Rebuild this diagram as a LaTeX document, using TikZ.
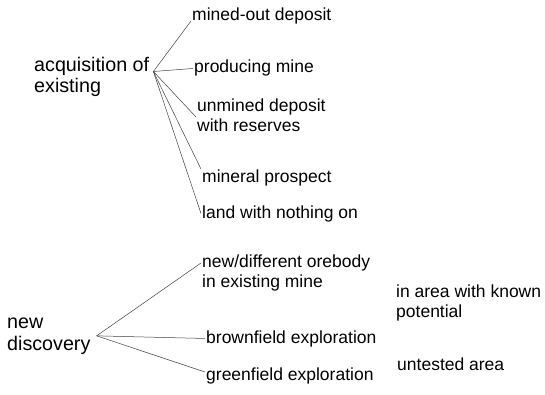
\documentclass[tikz,border=0pt]{standalone}
\usepackage{fontspec}
\setmainfont{Liberation Sans}
\usepackage{tikz}
\usetikzlibrary{positioning}

\begin{document}
\begin{tikzpicture}[
  x=1pt, y=-1pt,
  root/.style = {anchor=base west, align=left, inner sep=1pt,
                 font=\fontsize{19.7}{21.8}\selectfont},
  leaf/.style = {anchor=base west, align=left, inner sep=1pt,
                 font=\fontsize{17.5}{20}\selectfont},
  link/.style = {line width=0.5pt, draw=black!75},
]
\useasboundingbox (0,0) rectangle (545,395);

% acquisition branch (multi-line nodes sit on their last baseline)
\node[root] (acq) at (33,93) {acquisition of\\existing};
\coordinate (hubA) at ([xshift=3pt,yshift=21.5pt]acq.base east);

\node[leaf] (mined)   at (191,21)  {mined-out deposit};
\node[leaf] (prod)    at (193,73)  {producing mine};
\node[leaf] (unmined) at (196,132) {unmined deposit\\with reserves};
\node[leaf] (prosp)   at (201,183) {mineral prospect};
\node[leaf] (land)    at (201,218) {land with nothing on};

\draw[link] (hubA) -- (mined.base west);
\draw[link] (hubA) -- (prod.west);
\draw[link] (hubA) -- ([yshift=15pt]unmined.base west);
\draw[link] (hubA) -- (prosp.north west);
\draw[link] (hubA) -- (land.west);

% discovery branch
\node[root] (disc) at (6,350) {new\\discovery};
\coordinate (hubB) at ([xshift=5pt]disc.east);

\node[leaf] (ore)   at (201,287) {new/different orebody\\in existing mine};
\node[leaf] (brown) at (205,343) {brownfield exploration};
\node[leaf] (green) at (205,380) {greenfield exploration};

\draw[link] (hubB) -- ([yshift=24pt]ore.base west);
\draw[link] (hubB) -- (brown.west);
\draw[link] (hubB) -- ([yshift=8pt]green.base west);

% area notes
\node[leaf] (known)    at (395,317) {in area with known\\potential};
\node[leaf] (untested) at (396,370) {untested area};

\end{tikzpicture}
\end{document}
